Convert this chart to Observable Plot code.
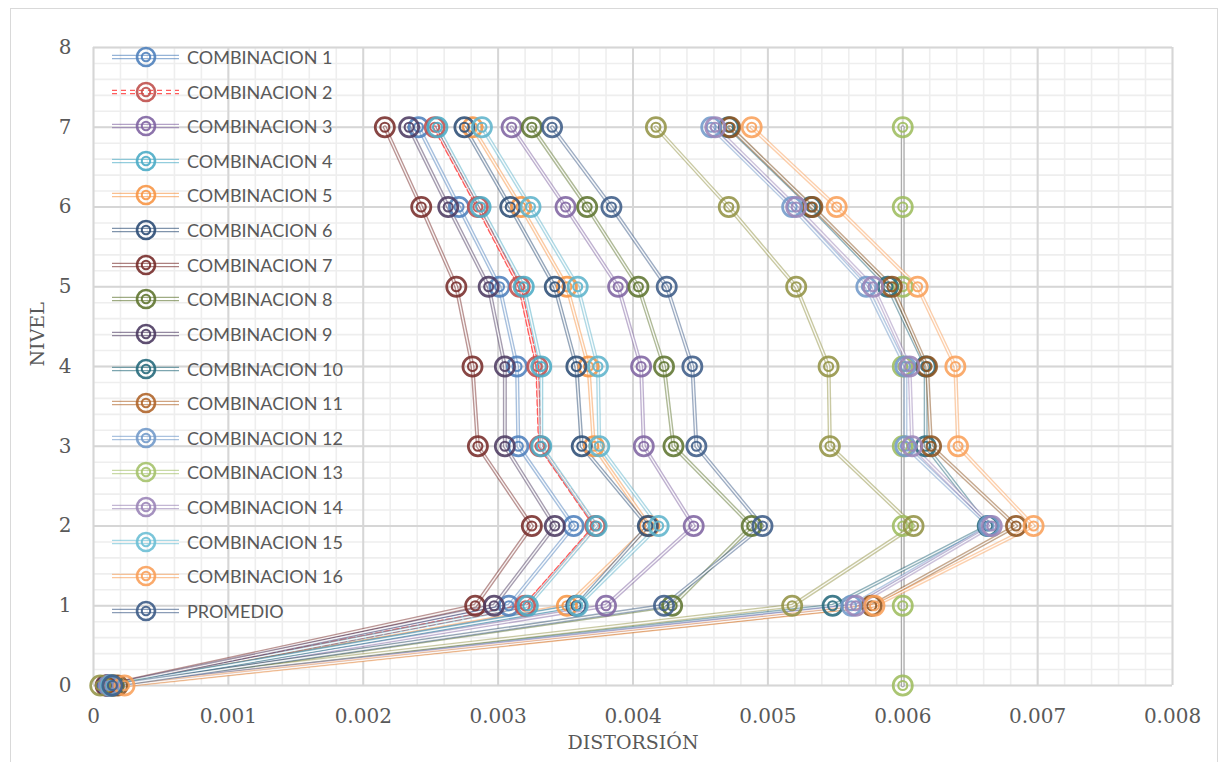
<!DOCTYPE html>
<html><head><meta charset="utf-8">
<script src="https://cdn.jsdelivr.net/npm/d3@7"></script>
<script src="https://cdn.jsdelivr.net/npm/@observablehq/plot@0.6"></script>
<style>
body{margin:0;background:#fff;}
#wrap{position:relative;width:1219px;height:762px;overflow:hidden;background:#fff;}
#frame{position:absolute;left:10px;top:8px;width:1206px;height:800px;border:1px solid #d9d9d9;}
#chart{position:absolute;left:0;top:0;}
.lg-sym{position:absolute;}
.lg-txt{position:absolute;font-family:Lato,sans-serif;font-size:18px;color:#595959;line-height:20px;white-space:nowrap;}
</style></head>
<body><div id="wrap"><div id="frame"></div><div id="chart"></div><div id="legend"></div></div>
<script>
// Niveles (eje Y)
const niveles = [0, 1, 2, 3, 4, 5, 6, 7];
// Distorsiones por nivel 0..7
const comb1  = [0.00010, 0.00308, 0.00356, 0.00315, 0.00314, 0.00301, 0.00271, 0.00241];
const comb2  = [0.00013, 0.00320, 0.00372, 0.00331, 0.00329, 0.00316, 0.00285, 0.00253];
const comb3  = [0.00015, 0.00380, 0.00445, 0.00408, 0.00406, 0.00389, 0.00350, 0.00310];
const comb4  = [0.00013, 0.00322, 0.00373, 0.00332, 0.00332, 0.00319, 0.00287, 0.00255];
const comb5  = [0.00014, 0.00351, 0.00412, 0.00371, 0.00367, 0.00351, 0.00317, 0.00281];
const comb6  = [0.00012, 0.00358, 0.00411, 0.00362, 0.00358, 0.00342, 0.00309, 0.00275];
const comb7  = [0.00009, 0.00283, 0.00325, 0.00285, 0.00281, 0.00269, 0.00243, 0.00216];
const comb8  = [0.00015, 0.00429, 0.00488, 0.00430, 0.00423, 0.00404, 0.00366, 0.00325];
const comb9  = [0.00010, 0.00297, 0.00342, 0.00305, 0.00305, 0.00293, 0.00263, 0.00234];
const comb10 = [0.00012, 0.00548, 0.00663, 0.00617, 0.00617, 0.00589, 0.00532, 0.00471];
const comb11 = [0.00018, 0.00577, 0.00684, 0.00621, 0.00618, 0.00592, 0.00533, 0.00472];
const comb12 = [0.00011, 0.00562, 0.00664, 0.00602, 0.00602, 0.00573, 0.00518, 0.00458];
const comb13 = [0.00005, 0.00518, 0.00608, 0.00546, 0.00545, 0.00521, 0.00471, 0.00417];
const comb14 = [0.00012, 0.00565, 0.00666, 0.00607, 0.00605, 0.00578, 0.00521, 0.00461];
const comb15 = [0.00013, 0.00359, 0.00419, 0.00375, 0.00374, 0.00359, 0.00324, 0.00288];
const comb16 = [0.00023, 0.00579, 0.00697, 0.00641, 0.00639, 0.00611, 0.00551, 0.00488];
const promedio = [0.00014, 0.00423, 0.00496, 0.00447, 0.00444, 0.00425, 0.00384, 0.00340];
const limite = [0.006, 0.006, 0.006, 0.006, 0.006, 0.006, 0.006, 0.006];

const nombres = ["COMBINACION 1","COMBINACION 2","COMBINACION 3","COMBINACION 4","COMBINACION 5","COMBINACION 6","COMBINACION 7","COMBINACION 8","COMBINACION 9","COMBINACION 10","COMBINACION 11","COMBINACION 12","COMBINACION 13","COMBINACION 14","COMBINACION 15","COMBINACION 16","PROMEDIO"];
const valores = [comb1,comb2,comb3,comb4,comb5,comb6,comb7,comb8,comb9,comb10,comb11,comb12,comb13,comb14,comb15,comb16,promedio];
const colores = ["#4F81BD","#C0504D","#8064A2","#4BACC6","#F79646","#2C4D75","#772C2A","#5F7530","#4D3B62","#276A7C","#8E5420","#729ACA","#939345","#9B85B8","#5FB4CC","#F9A05A","#3D5C87"];
const coloresLeyenda = ["#4F81BD","#C0504D","#8064A2","#4BACC6","#F79646","#2C4D75","#772C2A","#5F7530","#4D3B62","#276A7C","#B0652A","#729ACA","#A5C26B","#9B85B8","#6CBFD5","#F9A05A","#3D5C87"];
const colorLimite = "#9BBB59";
const xTicks = [0,0.001,0.002,0.003,0.004,0.005,0.006,0.007,0.008];
const yTicks = [0,1,2,3,4,5,6,7,8];

const series = valores.map((v,i)=>({name:nombres[i], color:colores[i], dashed:i===1, pts:v.map((d,j)=>({d, nivel:niveles[j]}))}));
const limPts = limite.map((d,j)=>({d, nivel:niveles[j]}));

const minorX = d3.range(0, 41).map(i=>i*0.0002);
const minorY = d3.range(0, 41).map(i=>i*0.2);

const marks = [
  Plot.gridX(minorX, {stroke:"#eeeeee", strokeOpacity:1, strokeWidth:1.6}),
  Plot.gridY(minorY, {stroke:"#eeeeee", strokeOpacity:1, strokeWidth:1.6}),
  Plot.gridX(xTicks, {stroke:"#d6d6d6", strokeOpacity:1, strokeWidth:2}),
  Plot.gridY(yTicks, {stroke:"#d6d6d6", strokeOpacity:1, strokeWidth:2}),
];
// limit line
marks.push(Plot.line(limPts, {x:"d", y:"nivel", stroke:"#8f8f8f", strokeWidth:4, strokeOpacity:0.7}));
marks.push(Plot.line(limPts, {x:"d", y:"nivel", stroke:"#ffffff", strokeWidth:1.3}));
for (const s of series) {
  marks.push(Plot.line(s.pts, {x:"d", y:"nivel", stroke: s.dashed ? "#FF4A4A" : s.color, strokeWidth:4, strokeOpacity: s.dashed ? 0.9 : 0.5, strokeDasharray: s.dashed ? "5,4" : null}));
  marks.push(Plot.line(s.pts, {x:"d", y:"nivel", stroke:"#ffffff", strokeWidth:1.3, strokeOpacity:0.9}));
}
marks.push(Plot.dot(limPts, {x:"d", y:"nivel", r:9.6, stroke:colorLimite, strokeWidth:2.7, strokeOpacity:0.85, fill:"none"}));
marks.push(Plot.dot(limPts, {x:"d", y:"nivel", r:4.5, stroke:colorLimite, strokeWidth:2.1, strokeOpacity:0.85, fill:"none"}));
for (const s of series) {
  marks.push(Plot.dot(s.pts, {x:"d", y:"nivel", r:9.6, stroke:s.color, strokeWidth:2.7, strokeOpacity:0.88, fill:"none"}));
  marks.push(Plot.dot(s.pts, {x:"d", y:"nivel", r:4.5, stroke:s.color, strokeWidth:2.1, strokeOpacity:0.88, fill:"none"}));
}
marks.push(Plot.axisX(xTicks, {tickSize:0, tickPadding:23, tickFormat:d=> d===0 ? "0" : d3.format(".3f")(d), label:null, fontSize:20, fill:"#595959"}));
marks.push(Plot.axisY(yTicks, {tickSize:0, tickPadding:22, tickFormat:d=>String(d), label:null, fontSize:20, fill:"#595959"}));
marks.push(Plot.text(["DISTORSIÓN"], {frameAnchor:"bottom", dy:63, text:d=>d, fontSize:19, fill:"#595959", fontFamily:"DejaVu Serif"}));
marks.push(Plot.text(["NIVEL"], {frameAnchor:"left", dx:-56, rotate:-90, text:d=>d, fontSize:19, fill:"#595959", fontFamily:"DejaVu Serif"}));

const chart = Plot.plot({
  width:1219, height:762,
  marginLeft:93, marginRight:47, marginTop:47, marginBottom:77,
  style:{fontFamily:"DejaVu Serif", background:"transparent", color:"#595959"},
  x:{domain:[0,0.008]},
  y:{domain:[0,8]},
  marks
});
document.getElementById("chart").appendChild(chart);

// Leyenda
const lg = document.getElementById("legend");
const ns = "http://www.w3.org/2000/svg";
nombres.forEach((n,i)=>{
  const cy = 57 + i*34.62;
  const svg = document.createElementNS(ns,"svg");
  svg.setAttribute("width",72); svg.setAttribute("height",26);
  svg.setAttribute("class","lg-sym");
  svg.style.left="110px"; svg.style.top=(cy-13)+"px";
  const c = coloresLeyenda[i];
  const dashed = i===1;
  for (const off of [-1.6, 1.6]) {
    const l = document.createElementNS(ns,"line");
    l.setAttribute("x1",2); l.setAttribute("x2",69); l.setAttribute("y1",13+off); l.setAttribute("y2",13+off);
    l.setAttribute("stroke", dashed ? "#FF4A4A" : c); l.setAttribute("stroke-width",1.3);
    l.setAttribute("stroke-opacity", dashed ? 0.9 : 0.6);
    if (dashed) l.setAttribute("stroke-dasharray","5,4");
    svg.appendChild(l);
  }
  for (const [r,w] of [[9,2.7],[4.2,2.1]]) {
    const ci = document.createElementNS(ns,"circle");
    ci.setAttribute("cx",36); ci.setAttribute("cy",13); ci.setAttribute("r",r);
    ci.setAttribute("fill","none"); ci.setAttribute("stroke",c); ci.setAttribute("stroke-width",w);
    ci.setAttribute("stroke-opacity",0.9);
    svg.appendChild(ci);
  }
  lg.appendChild(svg);
  const t = document.createElement("div");
  t.className="lg-txt"; t.textContent=n;
  t.style.left="187px"; t.style.top=(cy-10)+"px";
  lg.appendChild(t);
});
</script>
</body></html>
